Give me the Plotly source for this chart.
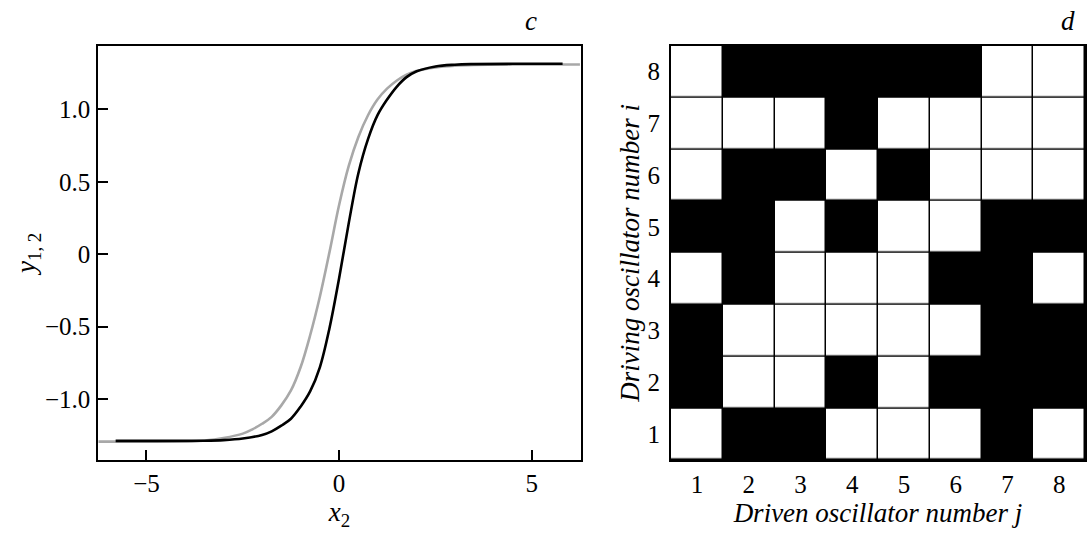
import plotly.graph_objects as go

# ---- panel c data ----
gray_x = [-6.25, -5.0, -4.0, -3.5, -3.0, -2.5, -2.25, -2.0, -1.75, -1.5, -1.25, -1.0, -0.75, -0.5,
          -0.25, 0.0, 0.25, 0.5, 0.75, 1.0, 1.25, 1.5, 1.75, 2.0, 2.5, 3.0, 3.5, 4.5, 6.25]
gray_y = [-1.293, -1.293, -1.291, -1.285, -1.268, -1.238, -1.208, -1.17, -1.122, -1.043, -0.94, -0.78,
          -0.557, -0.293, 0.015, 0.34, 0.61, 0.81, 0.96, 1.07, 1.145, 1.2, 1.24, 1.265, 1.29, 1.302,
          1.307, 1.31, 1.31]
black_x = [-5.8, -4.5, -3.5, -3.0, -2.5, -2.0, -1.75, -1.5, -1.25, -1.0, -0.75, -0.5, -0.25, 0.0,
           0.25, 0.5, 0.75, 1.0, 1.25, 1.5, 1.75, 2.0, 2.5, 3.0, 3.5, 4.5, 5.8]
black_y = [-1.288, -1.288, -1.287, -1.283, -1.272, -1.247, -1.222, -1.183, -1.135, -1.052, -0.945,
           -0.78, -0.51, -0.165, 0.215, 0.56, 0.795, 0.962, 1.07, 1.158, 1.223, 1.262, 1.297, 1.309,
           1.313, 1.315, 1.315]
c_xticks = [-5, 0, 5]
c_xticktext = ["\u22125", "0", "5"]
c_yticks = [-1.0, -0.5, 0, 0.5, 1.0]
c_yticktext = ["\u22121.0", "\u22120.5", "0", "0.5", "1.0"]

# ---- panel d data: rows i = 1..8 (bottom to top), columns j = 1..8; 1 = black ----
driven_j = [1, 2, 3, 4, 5, 6, 7, 8]
driving_i = [1, 2, 3, 4, 5, 6, 7, 8]
row_i1 = [0, 1, 1, 0, 0, 0, 1, 0]
row_i2 = [1, 0, 0, 1, 0, 1, 1, 1]
row_i3 = [1, 0, 0, 0, 0, 0, 1, 1]
row_i4 = [0, 1, 0, 0, 0, 1, 1, 0]
row_i5 = [1, 1, 0, 1, 0, 0, 1, 1]
row_i6 = [0, 1, 1, 0, 1, 0, 0, 0]
row_i7 = [0, 0, 0, 1, 0, 0, 0, 0]
row_i8 = [0, 1, 1, 1, 1, 1, 0, 0]
coupling = [row_i1, row_i2, row_i3, row_i4, row_i5, row_i6, row_i7, row_i8]

FONT = "Liberation Serif, Times New Roman, serif"
TICK = 25
TITLE = 27

fig = go.Figure()
fig.add_trace(go.Scatter(x=gray_x, y=gray_y, mode="lines",
                         line=dict(color="#a8a8a8", width=2.6, shape="spline", smoothing=1.0),
                         xaxis="x", yaxis="y", showlegend=False, hoverinfo="skip"))
fig.add_trace(go.Scatter(x=black_x, y=black_y, mode="lines",
                         line=dict(color="black", width=2.6, shape="spline", smoothing=1.0),
                         xaxis="x", yaxis="y", showlegend=False, hoverinfo="skip"))
fig.add_trace(go.Heatmap(x=driven_j, y=driving_i, z=coupling,
                         colorscale=[[0, "white"], [1, "black"]], zmin=0, zmax=1,
                         showscale=False, xgap=1.5, ygap=1.5,
                         xaxis="x2", yaxis="y2", hoverinfo="skip"))

# black background behind the grid so gaps show as grid lines
fig.add_shape(type="rect", xref="x2 domain", yref="y2 domain", x0=0, x1=1, y0=0, y1=1,
              fillcolor="black", line=dict(width=0), layer="below")

W, H = 1088, 533
axis_common = dict(showline=True, linecolor="black", linewidth=2, mirror=True,
                   showgrid=False, zeroline=False,
                   tickfont=dict(family=FONT, size=TICK, color="black"))

fig.update_layout(
    width=W, height=H,
    margin=dict(l=0, r=0, t=0, b=0),
    paper_bgcolor="white", plot_bgcolor="white",
    xaxis=dict(**axis_common, domain=[98.3 / W, 580.7 / W], range=[-6.25, 6.27],
               tickvals=c_xticks, ticktext=c_xticktext, ticks="inside", ticklen=10,
               tickwidth=1.5, tickcolor="black", ticklabelstandoff=0,
               title=dict(text="<i>x</i><sub>2</sub>", standoff=0,
                          font=dict(family=FONT, size=TITLE, color="black")),
               anchor="y"),
    yaxis=dict(**axis_common, domain=[1 - 460 / H, 1 - 45.7 / H], range=[-1.42, 1.44],
               tickvals=c_yticks, ticktext=c_yticktext, ticks="inside", ticklen=10,
               tickwidth=1.5, tickcolor="black", ticklabelstandoff=1,
               title=dict(text="<i>y</i><sub>1, 2</sub>", standoff=1,
                          font=dict(family=FONT, size=TITLE, color="black")),
               anchor="x"),
    xaxis2=dict(**axis_common, domain=[671 / W, 1085 / W], range=[0.5, 8.5],
                tickvals=driven_j, ticks="", ticklabelstandoff=1,
                title=dict(text="<i>Driven oscillator number j</i>", standoff=0,
                           font=dict(family=FONT, size=TITLE, color="black")),
                anchor="y2"),
    yaxis2=dict(**axis_common, domain=[1 - 460 / H, 1 - 45.7 / H], range=[0.5, 8.5],
                tickvals=driving_i, ticks="", ticklabelstandoff=4,
                title=dict(text="<i>Driving oscillator number i</i>", standoff=0,
                           font=dict(family=FONT, size=TITLE, color="black")),
                anchor="x2"),
    annotations=[
        dict(text="<i>c</i>", x=531 / W, y=1 - 21 / H, xref="paper", yref="paper",
             xanchor="center", yanchor="middle",
             showarrow=False, font=dict(family=FONT, size=27, color="black")),
        dict(text="<i>d</i>", x=1068 / W, y=1 - 21 / H, xref="paper", yref="paper",
             xanchor="center", yanchor="middle",
             showarrow=False, font=dict(family=FONT, size=27, color="black")),
    ],
)

fig.write_html("out.html", config={"displayModeBar": False},
               post_script="document.body.style.margin='0';")
